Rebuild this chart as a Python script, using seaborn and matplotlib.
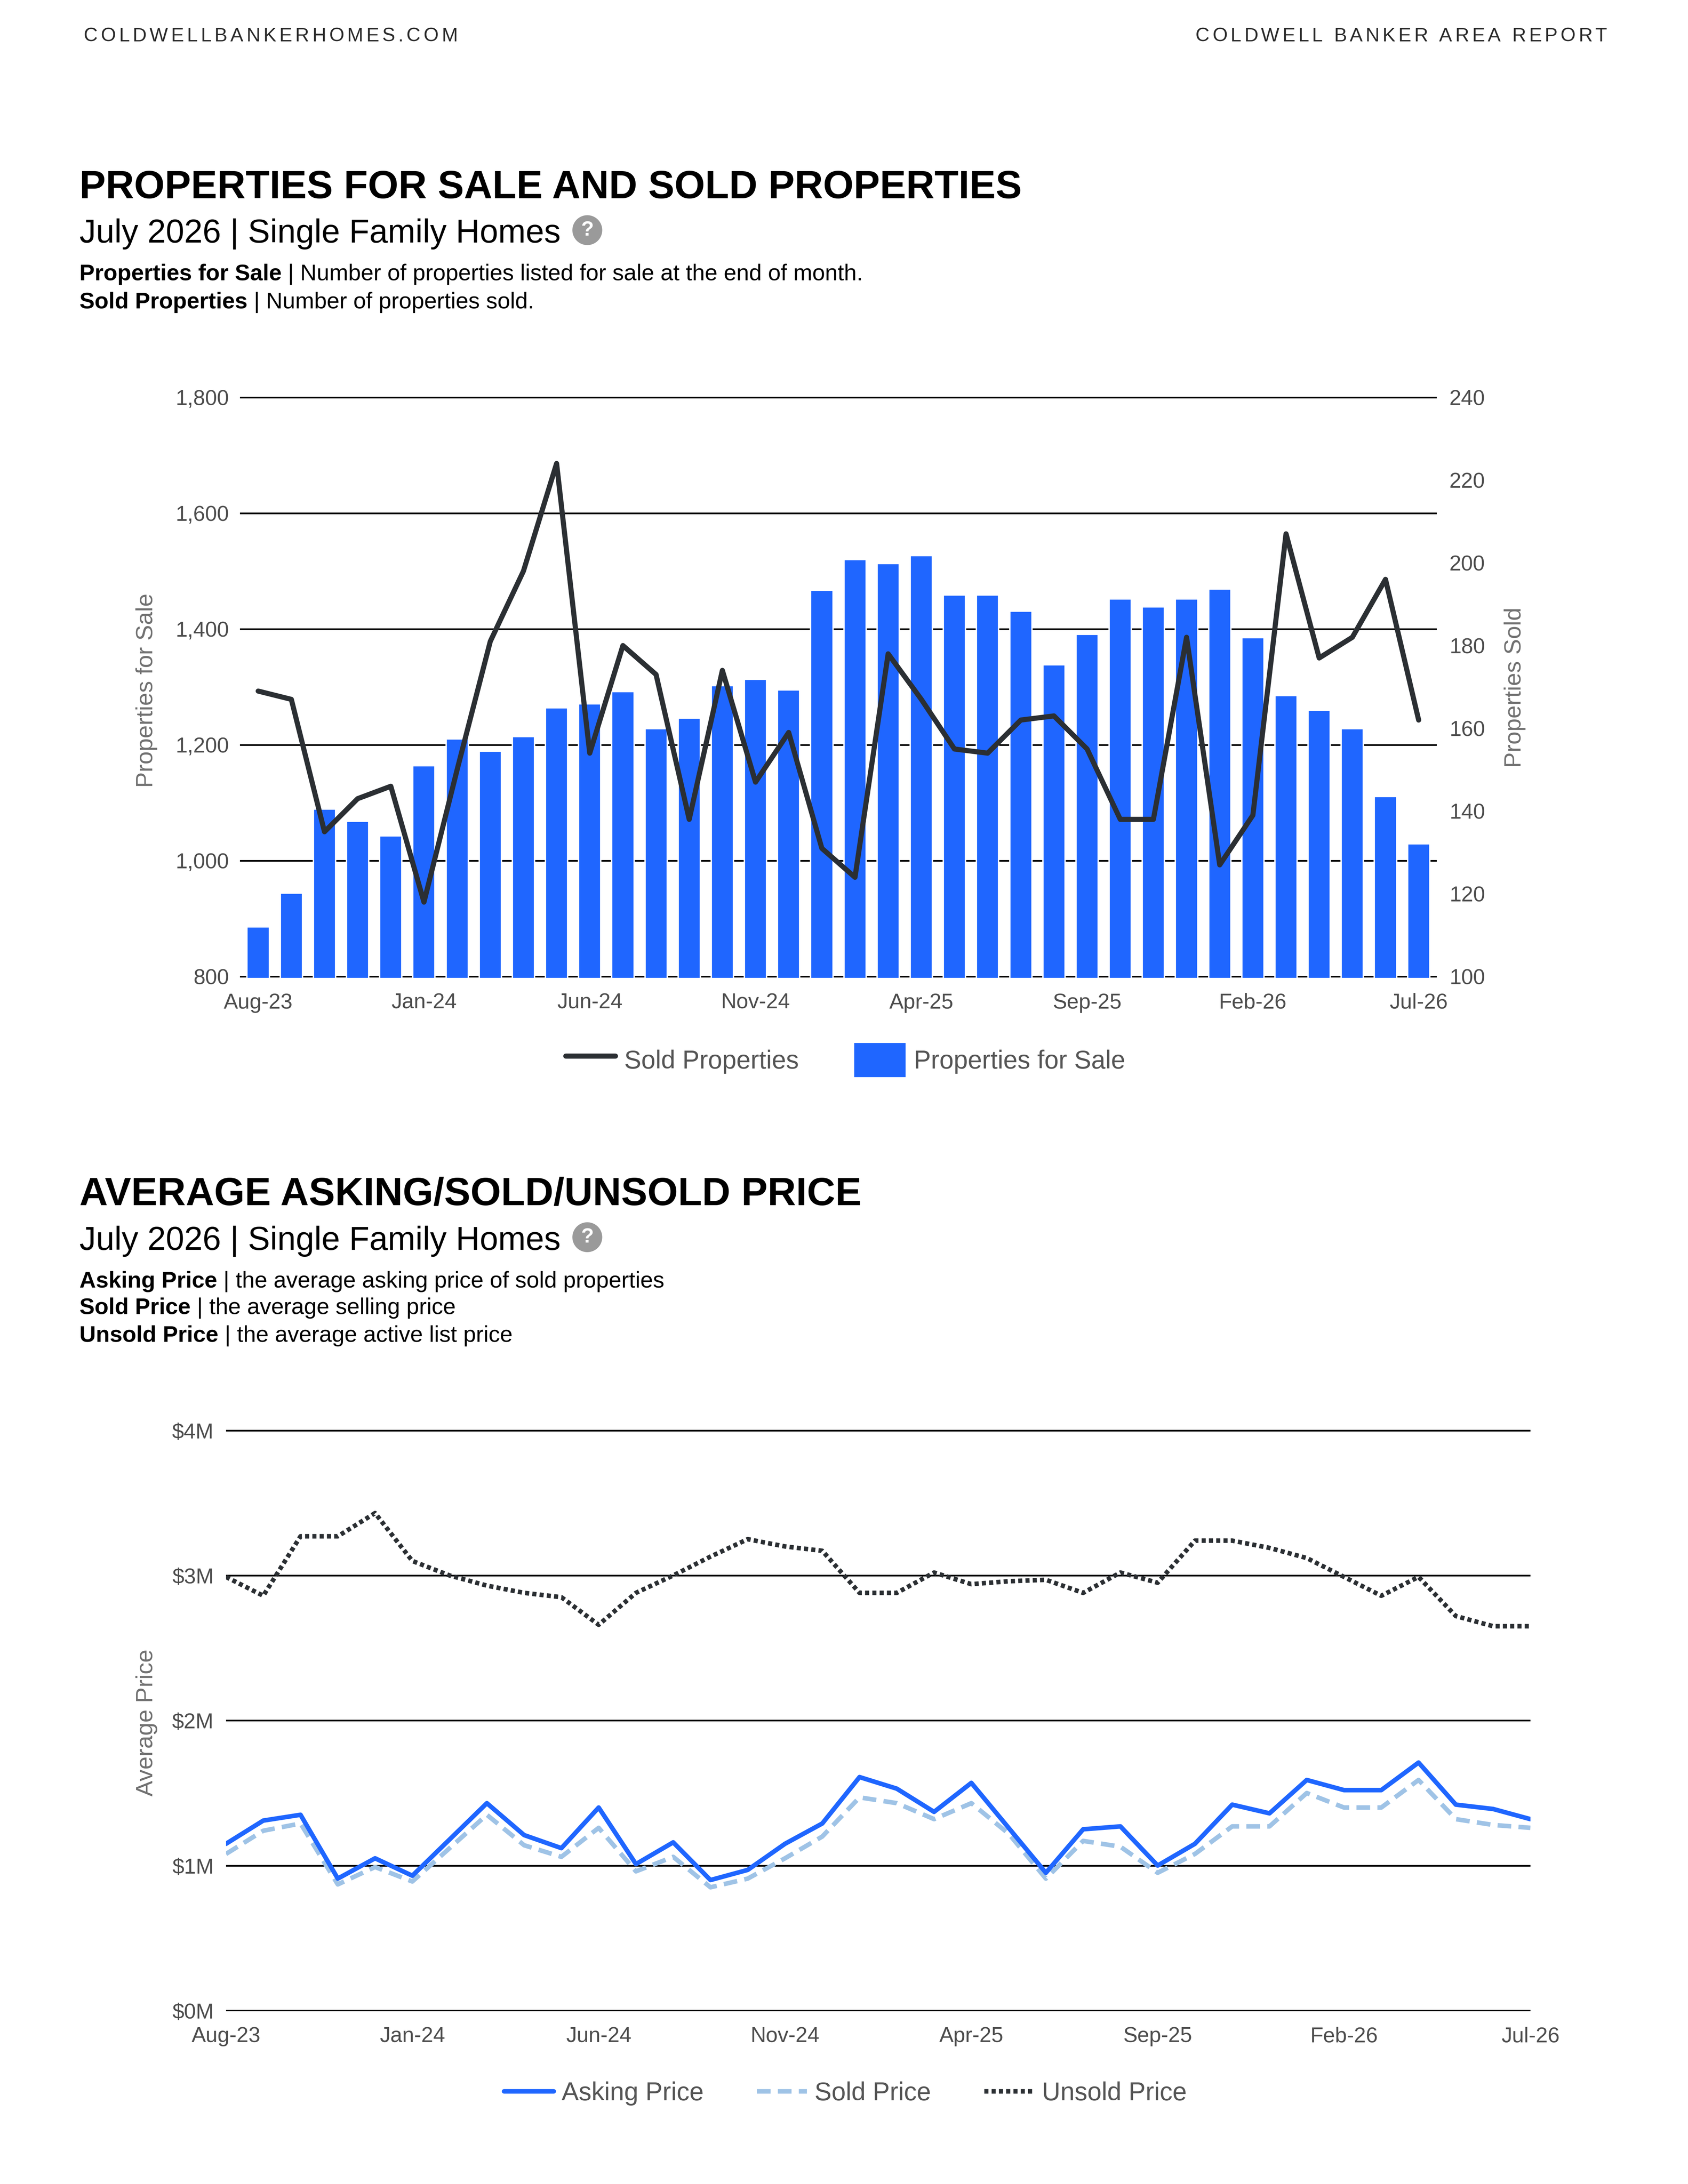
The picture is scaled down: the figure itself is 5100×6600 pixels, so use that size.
import numpy as np
import pandas as pd
import matplotlib
matplotlib.use("Agg")
import matplotlib.pyplot as plt
from matplotlib.lines import Line2D
from matplotlib.patches import Patch
import seaborn as sns

# ---- data ----
months = list(pd.date_range("2023-08-01", "2026-07-01", freq="MS").strftime("%b-%y"))
tick_labels = ["Aug-23", "Jan-24", "Jun-24", "Nov-24", "Apr-25", "Sep-25", "Feb-26", "Jul-26"]

for_sale = [886, 944, 1089, 1068, 1043, 1164, 1210, 1189, 1214, 1264, 1271, 1292,
            1228, 1246, 1302, 1313, 1295, 1467, 1520, 1513, 1527, 1459, 1459, 1431,
            1338, 1391, 1452, 1438, 1452, 1469, 1385, 1285, 1260, 1228, 1111, 1029]
sold_props = [169, 167, 135, 143, 146, 118, 150, 181, 198, 224, 154, 180,
              173, 138, 174, 147, 159, 131, 124, 178, 167, 155, 154, 162,
              163, 155, 138, 138, 182, 127, 139, 207, 177, 182, 196, 162]

# average prices in $M
asking_price = [1.15, 1.31, 1.35, 0.91, 1.05, 0.93, 1.18, 1.43, 1.21, 1.12, 1.40, 1.01,
                1.16, 0.90, 0.97, 1.15, 1.29, 1.61, 1.53, 1.37, 1.57, 1.26, 0.95, 1.25,
                1.27, 1.00, 1.15, 1.42, 1.36, 1.59, 1.52, 1.52, 1.71, 1.42, 1.39, 1.32]
sold_price = [1.08, 1.24, 1.29, 0.87, 0.99, 0.89, 1.12, 1.35, 1.14, 1.06, 1.26, 0.96,
              1.06, 0.85, 0.91, 1.05, 1.20, 1.47, 1.43, 1.32, 1.43, 1.22, 0.91, 1.17,
              1.13, 0.95, 1.08, 1.27, 1.27, 1.50, 1.40, 1.40, 1.59, 1.32, 1.28, 1.26]
unsold_price = [2.99, 2.86, 3.27, 3.27, 3.43, 3.10, 3.00, 2.93, 2.88, 2.85, 2.66, 2.88,
                3.00, 3.13, 3.25, 3.20, 3.17, 2.88, 2.88, 3.02, 2.94, 2.96, 2.97, 2.88,
                3.02, 2.95, 3.24, 3.24, 3.19, 3.12, 2.99, 2.86, 2.99, 2.72, 2.65, 2.65]

BAR = "#1f66ff"
DARK = "#2b2f33"
LIGHT = "#9fc3e6"
TICK = "#4d4d4d"
AXLAB = "#707070"

sns.set_style("white")
plt.rcParams["font.family"] = ["Liberation Sans", "DejaVu Sans"]

fig = plt.figure(figsize=(17, 22), dpi=300)
W, H = 1210.0, 1565.8   # layout measured on a 1210 px wide preview
FIG_PT = 17 * 72


def fx(px):
    return px / W


def fy(py):
    return 1 - py / H


renderer = fig.canvas.get_renderer()


def tracked(x, y, s, size, span_px, ha="left", **kw):
    # letter-spaced text spread over span_px, one glyph at a time
    widths = []
    for ch in s:
        if ch == " ":
            widths.append(0.278 * size)
            continue
        t = fig.text(0, 0, ch, fontsize=size, **kw)
        bb = t.get_window_extent(renderer)
        widths.append(bb.width * 72 / fig.dpi)
        t.remove()
    span = span_px / W * FIG_PT
    track = (span - sum(widths)) / (len(s) - 1)
    x0 = x if ha == "left" else x - span / FIG_PT
    pos = 0
    for ch, w in zip(s, widths):
        if ch != " ":
            fig.text(x0 + pos / FIG_PT, y, ch, fontsize=size, va="center", **kw)
        pos += w + track


def bold_lead(x, y, lead, rest, size):
    t = fig.text(x, y, lead, fontsize=size, fontweight="bold", va="baseline", color="black")
    bb = t.get_window_extent(renderer)
    x1 = bb.x1 / fig.bbox.width + 0.278 * size / FIG_PT
    fig.text(x1, y, rest, fontsize=size, va="baseline", color="black")


def help_icon(x, y):
    fig.text(x, y, "?", ha="center", va="center", fontsize=15, color="white",
             fontweight="bold",
             bbox=dict(boxstyle="circle,pad=0.25", fc="#9a9a9a", ec="none"))


# ---- page header ----
tracked(fx(60), fy(26), "COLDWELLBANKERHOMES.COM", 14, 268, color="#2a2a2a")
tracked(fx(1152), fy(26), "COLDWELL BANKER AREA REPORT", 14, 295, ha="right",
        color="#2a2a2a")

# ---- section 1 text ----
fig.text(fx(57), fy(142), "PROPERTIES FOR SALE AND SOLD PROPERTIES", fontsize=28.5,
         fontweight="bold", va="baseline", color="black")
fig.text(fx(57), fy(174), "July 2026 | Single Family Homes", fontsize=24, va="baseline",
         color="black")
help_icon(fx(421), fy(165))
bold_lead(fx(57), fy(201), "Properties for Sale", "| Number of properties listed for sale at the end of month.", 16.5)
bold_lead(fx(57), fy(221), "Sold Properties", "| Number of properties sold.", 16.5)

# ---- chart 1: bars + sold line on twin axis ----
ax1 = fig.add_axes([fx(172), fy(701), fx(1030) - fx(172), (701 - 284) / H])
sns.barplot(x=months, y=for_sale, ax=ax1, color=BAR, saturation=1, width=0.67)
ax1.set_xlim(-0.55, 35.55)
ax1.set_ylim(798, 1802)
ax1.set_yticks(range(800, 1801, 200))
ax1.set_yticklabels([f"{v:,}" for v in range(800, 1801, 200)])
ax1.set_xticks(range(0, 36, 5))
ax1.set_xticklabels(tick_labels)
ax1.grid(axis="y", color="black", linewidth=1.2)
ax1.grid(axis="x", visible=False)
ax1.set_axisbelow(True)
ax1.set_xlabel("")
ax1.set_ylabel("")
ax1.tick_params(axis="y", length=0, labelsize=15.5, labelcolor=TICK, pad=8)
ax1.tick_params(axis="x", length=0, labelsize=15.5, labelcolor=TICK, pad=11)

ax2 = ax1.twinx()
sns.lineplot(x=np.arange(len(sold_props)), y=sold_props, ax=ax2, color=DARK, linewidth=3.7)
ax2.set_xlim(-0.55, 35.55)
ax2.set_ylim(100 + (798 - 800) * 0.14, 100 + (1802 - 800) * 0.14)
ax2.set_yticks(range(100, 241, 20))
ax2.grid(False)
ax2.set_ylabel("")
ax2.tick_params(length=0, labelsize=15.5, labelcolor=TICK, pad=9)
for a in (ax1, ax2):
    for sp in a.spines.values():
        sp.set_visible(False)

fig.text(fx(105), fy(495), "Properties for Sale", rotation=90, ha="center", va="center",
         fontsize=17, color=AXLAB)
fig.text(fx(1086), fy(493), "Properties Sold", rotation=90, ha="center", va="center",
         fontsize=17, color=AXLAB)

fig.legend(handles=[Line2D([], [], color=DARK, linewidth=3.7), Patch(color=BAR)],
           labels=["Sold Properties", "Properties for Sale"],
           loc="center", bbox_to_anchor=(fx(606), fy(760)), ncol=2, frameon=False,
           fontsize=18.5, labelcolor="#555555", handlelength=1.95, handleheight=1.6,
           handletextpad=0.35, columnspacing=2.2)

# ---- section 2 text ----
fig.text(fx(57), fy(864), "AVERAGE ASKING/SOLD/UNSOLD PRICE", fontsize=28.5,
         fontweight="bold", va="baseline", color="black")
fig.text(fx(57), fy(896), "July 2026 | Single Family Homes", fontsize=24, va="baseline",
         color="black")
help_icon(fx(421), fy(887))
bold_lead(fx(57), fy(923), "Asking Price", "| the average asking price of sold properties", 16.5)
bold_lead(fx(57), fy(942), "Sold Price", "| the average selling price", 16.5)
bold_lead(fx(57), fy(962), "Unsold Price", "| the average active list price", 16.5)

# ---- chart 2: price lines ----
series_names = ["Asking Price", "Sold Price", "Unsold Price"]
prices = pd.DataFrame({
    "month": np.tile(np.arange(len(months)), 3),
    "price": asking_price + sold_price + unsold_price,
    "series": np.repeat(series_names, len(months)),
})
palette = {"Asking Price": BAR, "Sold Price": LIGHT, "Unsold Price": DARK}
dashes = {"Asking Price": "", "Sold Price": (3, 1.6), "Unsold Price": (0.9, 0.7)}
order = ["Unsold Price", "Sold Price", "Asking Price"]

ax3 = fig.add_axes([fx(162), fy(1442), fx(1097) - fx(162), (1442 - 1025) / H])
sns.lineplot(data=prices, x="month", y="price", hue="series", style="series",
             hue_order=order, style_order=order, palette=palette, dashes=dashes,
             linewidth=3.3, legend=False, ax=ax3)
ax3.set_xlim(0, 35)
ax3.set_ylim(-0.005, 4.005)
ax3.set_yticks(range(0, 5))
ax3.set_yticklabels([f"${v}M" for v in range(0, 5)])
ax3.set_xticks(range(0, 36, 5))
ax3.set_xticklabels(tick_labels)
ax3.grid(axis="y", color="black", linewidth=1.2)
ax3.grid(axis="x", visible=False)
ax3.set_axisbelow(True)
ax3.set_xlabel("")
ax3.set_ylabel("")
ax3.tick_params(axis="y", length=0, labelsize=15.5, labelcolor=TICK, pad=9)
ax3.tick_params(axis="x", length=0, labelsize=15.5, labelcolor=TICK, pad=11)
for sp in ax3.spines.values():
    sp.set_visible(False)

fig.text(fx(105), fy(1235), "Average Price", rotation=90, ha="center", va="center",
         fontsize=17, color=AXLAB)

legend_handles = [Line2D([], [], color=BAR, linewidth=3.3),
                  Line2D([], [], color=LIGHT, linewidth=3.3, dashes=dashes["Sold Price"]),
                  Line2D([], [], color=DARK, linewidth=3.3, dashes=dashes["Unsold Price"])]
fig.legend(handles=legend_handles, labels=series_names, loc="center",
           bbox_to_anchor=(fx(606), fy(1501)), ncol=3, frameon=False,
           fontsize=18.5, labelcolor="#555555", handlelength=1.95,
           handletextpad=0.3, columnspacing=2.1)

fig.savefig("out.png", dpi=300)
